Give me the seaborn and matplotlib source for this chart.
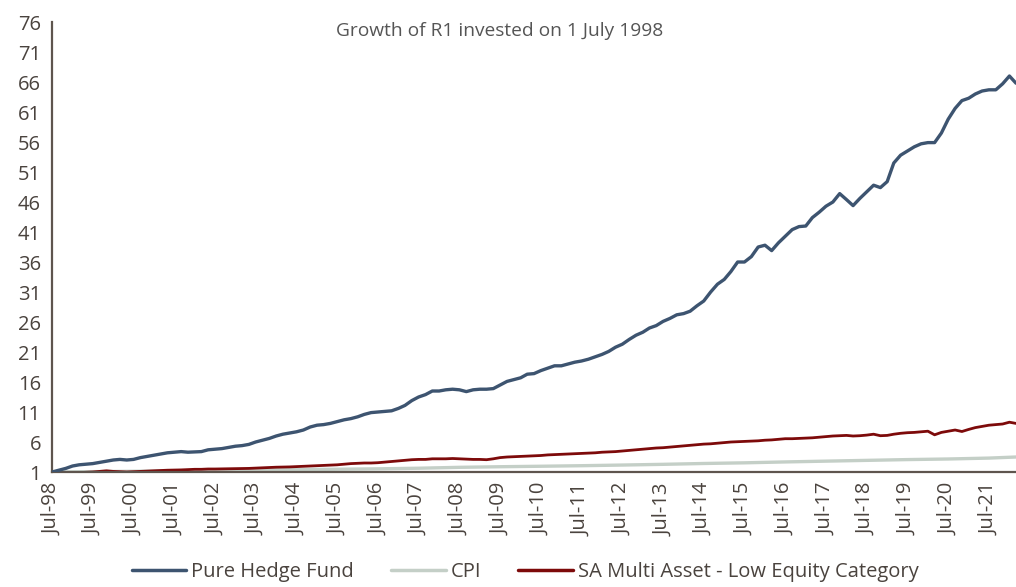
import pandas as pd
import matplotlib.pyplot as plt
import matplotlib.dates as mdates
import seaborn as sns

# Growth of R1, every second month from Jul-98 to Mar-22
hedge_fund = [
    1.0, 1.3, 1.6,
    2.0, 2.2, 2.3, 2.4, 2.6, 2.8,
    3.0, 3.1, 3.0, 3.1, 3.4, 3.6,
    3.8, 4.0, 4.2, 4.3, 4.4, 4.3,
    4.35, 4.4, 4.7, 4.8, 4.9, 5.1,
    5.3, 5.4, 5.6, 6.0, 6.3, 6.6,
    7.0, 7.3, 7.5, 7.7, 8.0, 8.5,
    8.8, 8.9, 9.1, 9.4, 9.7, 9.9,
    10.2, 10.6, 10.9, 11.0, 11.1, 11.2,
    11.6, 12.1, 12.9, 13.5, 13.9, 14.5,
    14.5, 14.7, 14.8, 14.7, 14.4, 14.7,
    14.8, 14.8, 14.9, 15.5, 16.1, 16.4,
    16.7, 17.3, 17.4, 17.9, 18.3, 18.7,
    18.7, 19.0, 19.3, 19.5, 19.8, 20.2,
    20.6, 21.1, 21.8, 22.3, 23.1, 23.8,
    24.3, 25.0, 25.4, 26.1, 26.6, 27.2,
    27.4, 27.8, 28.7, 29.5, 31.0, 32.3,
    33.1, 34.4, 36.0, 36.0, 36.9, 38.5,
    38.8, 37.9, 39.2, 40.3, 41.4, 41.9,
    42.0, 43.4, 44.3, 45.3, 46.0, 47.4,
    46.4, 45.4, 46.6, 47.7, 48.8, 48.4,
    49.4, 52.5, 53.8, 54.5, 55.2, 55.7,
    55.9, 55.9, 57.5, 59.8, 61.6, 62.9,
    63.3, 64.0, 64.5, 64.7, 64.7, 65.7,
    67.0, 65.8,
]
multi_asset = [
    1.0, 0.75, 0.8,
    0.85, 0.9, 0.95, 1.0, 1.1, 1.2,
    1.1, 1.05, 1.0, 1.05, 1.1, 1.15,
    1.2, 1.25, 1.3, 1.32, 1.35, 1.4,
    1.45, 1.45, 1.5, 1.5, 1.52, 1.55,
    1.55, 1.58, 1.6, 1.65, 1.7, 1.75,
    1.8, 1.82, 1.85, 1.9, 1.95, 2.0,
    2.05, 2.1, 2.15, 2.2, 2.3, 2.4,
    2.45, 2.5, 2.5, 2.55, 2.65, 2.75,
    2.85, 2.95, 3.05, 3.1, 3.1, 3.2,
    3.2, 3.2, 3.25, 3.2, 3.15, 3.1,
    3.1, 3.05, 3.2, 3.4, 3.5, 3.55,
    3.6, 3.65, 3.7, 3.75, 3.85, 3.9,
    3.95, 4.0, 4.05, 4.1, 4.15, 4.2,
    4.3, 4.35, 4.4, 4.5, 4.6, 4.7,
    4.8, 4.9, 5.0, 5.05, 5.15, 5.25,
    5.35, 5.45, 5.55, 5.65, 5.7, 5.8,
    5.9, 6.0, 6.05, 6.1, 6.15, 6.2,
    6.3, 6.35, 6.45, 6.55, 6.55, 6.6,
    6.65, 6.7, 6.8, 6.9, 7.0, 7.05,
    7.1, 7.0, 7.05, 7.15, 7.3, 7.05,
    7.1, 7.3, 7.45, 7.55, 7.6, 7.7,
    7.8, 7.2, 7.6, 7.8, 8.0, 7.75,
    8.1, 8.4, 8.6, 8.8, 8.9, 9.0,
    9.3, 9.1,
]
# CPI is smooth, read once a year (July) plus the last month
cpi_dates = [f'{y}-07-01' for y in range(1998, 2022)] + ['2022-03-01']
cpi = [1.00, 1.06, 1.12, 1.18, 1.27, 1.35, 1.40, 1.46, 1.53, 1.63,
       1.78, 1.88, 1.96, 2.05, 2.16, 2.28, 2.42, 2.53, 2.68, 2.81,
       2.94, 3.07, 3.17, 3.32, 3.50]

series_names = ['Pure Hedge Fund', 'CPI', 'SA Multi Asset - Low Equity Category']
colors = ['#3d5470', '#c4cfc7', '#7d0a0a']

dates = pd.date_range('1998-07-01', '2022-03-01', freq='2MS')
df = pd.concat([
    pd.DataFrame({'Date': dates, 'Value': hedge_fund, 'Series': series_names[0]}),
    pd.DataFrame({'Date': pd.to_datetime(cpi_dates), 'Value': cpi, 'Series': series_names[1]}),
    pd.DataFrame({'Date': dates, 'Value': multi_asset, 'Series': series_names[2]}),
], ignore_index=True)

sns.set_theme(style='white')
plt.rcParams['font.family'] = ['Open Sans', 'DejaVu Sans']
text_col = '#4a433e'
axis_col = '#5e554e'

fig = plt.figure(figsize=(10.16, 5.87), dpi=100)
ax = fig.add_axes([0.0512, 0.1959, 0.9488, 0.7666])

sns.lineplot(ax=ax, data=df, x='Date', y='Value', hue='Series',
             hue_order=series_names, palette=dict(zip(series_names, colors)),
             linewidth=2.3, legend=False)
# draw hedge fund on top
for line, lw in zip(ax.lines, [2.4, 2.4, 2.0]):
    line.set_linewidth(lw)
ax.lines[0].set_zorder(4)

ax.set_ylim(1, 76)
ax.set_yticks(range(1, 77, 5))
ax.set_xlim(pd.Timestamp('1998-07-01'), pd.Timestamp('2022-03-01'))
ax.set_xticks(pd.date_range('1998-07-01', '2021-07-01', freq='12MS'))
ax.xaxis.set_major_formatter(mdates.DateFormatter('%b-%y'))
ax.set_xlabel('')
ax.set_ylabel('')

for side in ['top', 'right']:
    ax.spines[side].set_visible(False)
for side in ['left', 'bottom']:
    ax.spines[side].set_color(axis_col)
    ax.spines[side].set_linewidth(1.6)
ax.tick_params(axis='both', direction='out', color=axis_col, width=1.4,
               length=5, labelcolor=text_col, labelsize=14.5, pad=3)
ax.tick_params(axis='x', rotation=90)

fig.text(0.492, 0.962, 'Growth of R1 invested on 1 July 1998',
         ha='center', va='top', fontsize=13.8, color='#555555')

handles = [plt.Line2D([], [], color=c, lw=2.5) for c in colors]
fig.legend(handles, series_names, loc='lower center', bbox_to_anchor=(0.517, -0.022),
           ncol=3, frameon=False, fontsize=14.5, handlelength=2.7,
           columnspacing=1.85, handletextpad=0.25, labelcolor=text_col)

fig.savefig('out.png', dpi=100)
